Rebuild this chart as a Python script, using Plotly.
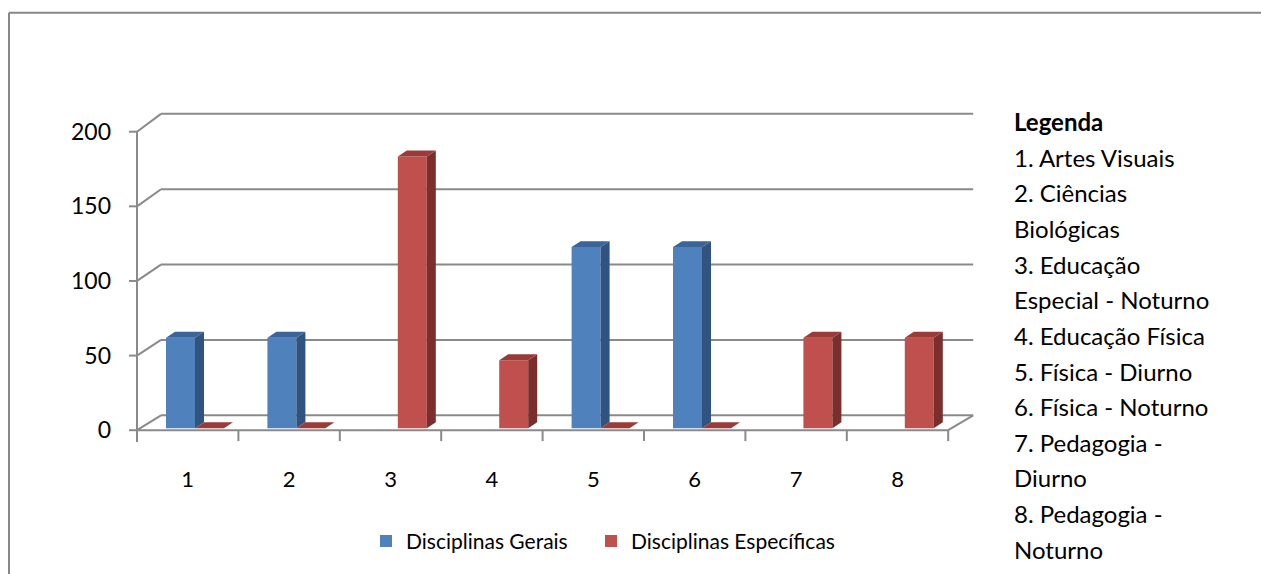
import plotly.graph_objects as go

# ---------------- data ----------------
categories = [1, 2, 3, 4, 5, 6, 7, 8]
tick_labels = ["1", "2", "3", "4", "5", "6", "7", "8"]
gerais = [60, 60, None, None, 120, 120, None, None]
especificas = [0, 0, 180, 45, 0, 0, 60, 60]
series_names = ["Disciplinas Gerais", "Disciplinas Específicas"]
y_ticks = [0, 50, 100, 150, 200]
legend_lines = [
    "<b>Legenda</b>",
    "1. Artes Visuais",
    "2. Ciências",
    "Biológicas",
    "3. Educação",
    "Especial - Noturno",
    "4. Educação Física",
    "5. Física - Diurno",
    "6. Física - Noturno",
    "7. Pedagogia -",
    "Diurno",
    "8. Pedagogia -",
    "Noturno",
]

# ---------------- styling / geometry ----------------
W, H = 1261, 574
FONT = "Lato"
GRID = "#8a8a8a"
BLUE = ("#4F81BD", "#31537F", "#3B6498")   # front, side, top
RED = ("#C0504D", "#7B2F2D", "#9B3B38")

PL, PR, PT, PB = 118, 990, 95, 458       # plot area in pixels
ZERO_PX = 433                            # pixel row of value 0 (front)
FRONT_LEFT_PX = 137                      # pixel column of the front-left edge
PX_X = 101.4                             # pixels per category
PX_Y = 1.505                             # pixels per unit (front)

x_lo = 0.5 - (FRONT_LEFT_PX - PL) / PX_X
x_hi = x_lo + (PR - PL) / PX_X
y_lo = -(PB - ZERO_PX) / PX_Y
y_hi = (ZERO_PX - PT) / PX_Y


def dxu(px):
    return px / PX_X


def dyu(px):
    return px / PX_Y


def wall(v):            # back wall projection
    return dyu(15) + v * 1.52 / PX_Y


def bar_y(v):           # bar front face projection
    return dyu(2) + v * 1.522 / PX_Y


def paper_x(px):
    return (px - PL) / (PR - PL)


def paper_y(py):
    return (PB - py) / (PB - PT)


n = len(categories)
x_left = 0.5
x_right_front = 0.5 + n
wall_dx = dxu(24)
x_back_right = x_right_front + dxu(25)
depth_dx, depth_dy = dxu(9), dyu(6)
bar_w = dxu(29)
offsets = [-dxu(21.7), dxu(7.3)]
legend_widths = [180, 300]

fig = go.Figure()

shapes = []
line = dict(color=GRID, width=2)
# floor
shapes.append(dict(type="line", x0=x_left, y0=0, x1=x_right_front, y1=0, line=line))
shapes.append(dict(type="line", x0=x_left, y0=0, x1=x_left + wall_dx, y1=wall(0), line=line))
shapes.append(dict(type="line", x0=x_right_front, y0=0, x1=x_back_right, y1=wall(0), line=line))
shapes.append(dict(type="line", x0=x_left + wall_dx, y0=wall(0), x1=x_back_right, y1=wall(0), line=line))
# back wall gridlines
for v in y_ticks[1:]:
    shapes.append(dict(type="line", x0=x_left, y0=v, x1=x_left + wall_dx, y1=wall(v), line=line))
    shapes.append(dict(type="line", x0=x_left + wall_dx, y0=wall(v), x1=x_back_right, y1=wall(v), line=line))
# y axis line and ticks
shapes.append(dict(type="line", x0=x_left, y0=-dyu(12), x1=x_left, y1=max(y_ticks), line=line))
for v in y_ticks:
    shapes.append(dict(type="line", x0=x_left - dxu(8), y0=v, x1=x_left, y1=v, line=line))
# x ticks
for k in range(n + 1):
    shapes.append(dict(type="line", x0=x_left + k, y0=0, x1=x_left + k, y1=-dyu(11), line=line))
for s in shapes:
    s["layer"] = "below"

# outer frame of the chart area
frame = dict(color="#878787", width=2)
shapes.append(dict(type="line", xref="paper", yref="paper", x0=paper_x(9), y0=paper_y(12),
                   x1=paper_x(W + 5), y1=paper_y(12), line=frame))
shapes.append(dict(type="line", xref="paper", yref="paper", x0=paper_x(9), y0=paper_y(12),
                   x1=paper_x(9), y1=paper_y(H + 5), line=frame))

# bars (front faces) and 3D side/top faces
for values, name, colors, off, lw in zip([gerais, especificas], series_names, [BLUE, RED],
                                         offsets, legend_widths):
    heights = [None if v is None else bar_y(v) - bar_y(0) for v in values]
    fig.add_trace(go.Bar(
        x=categories, y=heights, base=bar_y(0), offset=off, width=bar_w,
        name=name, marker=dict(color=colors[0], line=dict(width=0)), legendwidth=lw,
    ))
    side_x, side_y, top_x, top_y = [], [], [], []
    for c, v in zip(categories, values):
        if v is None:
            continue
        xl = c + off
        xr = xl + bar_w
        yb = bar_y(0)
        yt = bar_y(v)
        if v > 0:
            side_x += [xr, xr + depth_dx, xr + depth_dx, xr, xr, None]
            side_y += [yb, yb + depth_dy, yt + depth_dy, yt, yb, None]
        top_x += [xl, xr, xr + depth_dx, xl + depth_dx, xl, None]
        top_y += [yt, yt, yt + depth_dy, yt + depth_dy, yt, None]
    for fx, fy, col in [(side_x, side_y, colors[1]), (top_x, top_y, colors[2])]:
        fig.add_trace(go.Scatter(
            x=fx, y=fy, fill="toself", fillcolor=col, mode="lines",
            line=dict(width=0, color=col), showlegend=False, hoverinfo="skip",
        ))

# right-hand legend text
annotations = []
for i, txt in enumerate(legend_lines):
    annotations.append(dict(
        text=txt, xref="paper", yref="paper", x=paper_x(1012), y=paper_y(122 + i * 35.9),
        xanchor="left", yanchor="middle", showarrow=False,
        font=dict(family=FONT, size=24, color="black"),
    ))

fig.update_layout(
    width=W, height=H,
    margin=dict(l=PL, r=W - PR, t=PT, b=H - PB),
    paper_bgcolor="white", plot_bgcolor="rgba(0,0,0,0)",
    barmode="overlay",
    shapes=shapes, annotations=annotations,
    font=dict(family=FONT, color="black"),
    xaxis=dict(range=[x_lo, x_hi], tickvals=categories, ticktext=tick_labels,
               showgrid=False, zeroline=False, showline=False, ticks="",
               tickfont=dict(size=22, family=FONT), ticklabelstandoff=9, fixedrange=True),
    yaxis=dict(range=[y_lo, y_hi], tickvals=y_ticks, showgrid=False, zeroline=False,
               showline=False, ticks="", tickfont=dict(size=23, family=FONT),
               ticklabelstandoff=6, fixedrange=True),
    legend=dict(orientation="h", x=paper_x(366), y=paper_y(545), xanchor="left", yanchor="middle",
                font=dict(family=FONT, size=21, color="black"), bgcolor="rgba(0,0,0,0)",
                traceorder="normal"),
    showlegend=True,
)

fig.write_html("out.html")
